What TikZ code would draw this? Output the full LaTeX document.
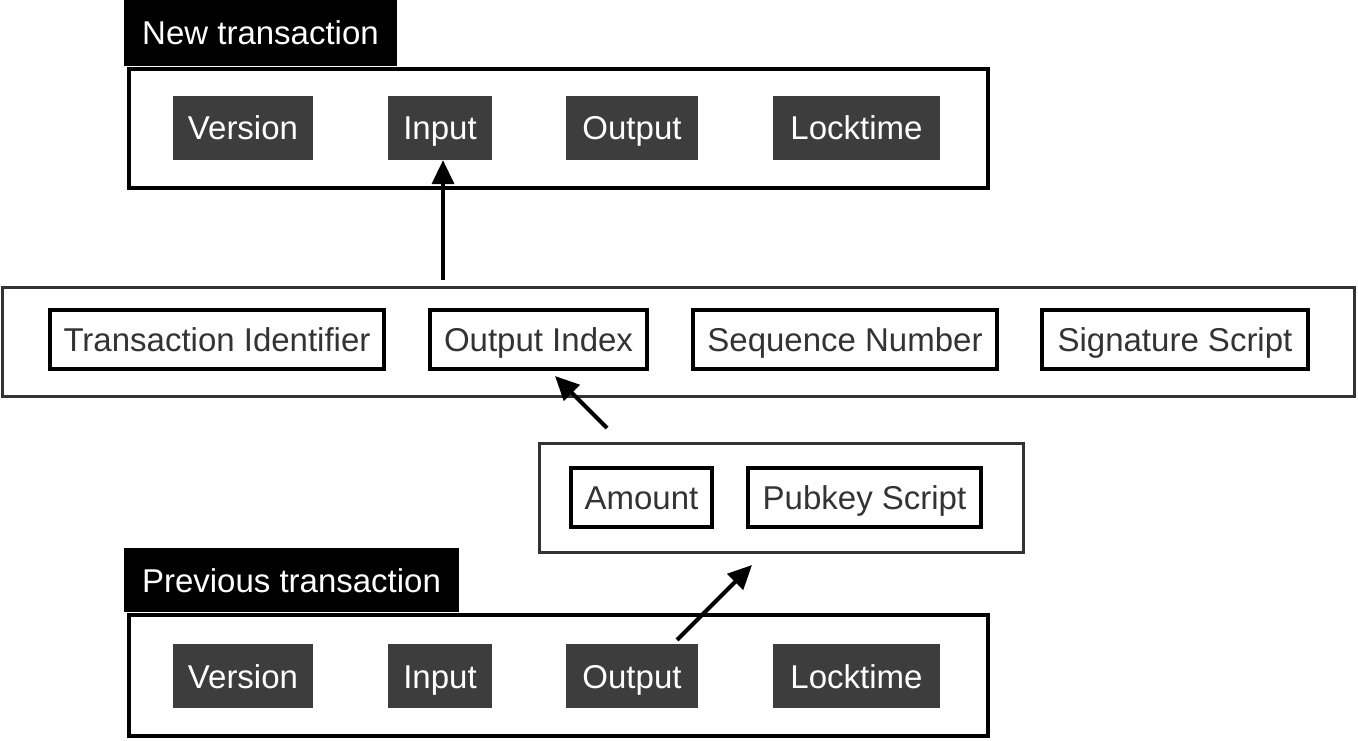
\documentclass[tikz,border=0pt]{standalone}
\usepackage{fontspec}
\setmainfont{Liberation Sans}
\usetikzlibrary{positioning,arrows.meta}
\definecolor{fieldgray}{HTML}{3D3D3D}
\definecolor{textgray}{HTML}{333333}
\tikzset{
  txframe/.style={draw, line width=4pt, inner sep=0pt},
  roughframe/.style={draw=black!80, line width=3.2pt, inner sep=0pt},
  txtab/.style={fill=black, text=white, inner sep=0pt, minimum height=66pt,
    text height=24pt, text depth=0pt, font=\fontsize{33}{40}\selectfont},
  field/.style={fill=fieldgray, text=white, inner sep=0pt, minimum height=64pt,
    text height=24pt, text depth=0pt, font=\fontsize{33}{40}\selectfont},
  part/.style={draw, line width=4pt, text=textgray, inner sep=0pt, minimum height=59pt,
    text height=24pt, text depth=0pt, font=\fontsize{33}{40}\selectfont},
  arr/.style={line width=4pt, -{Triangle[length=24pt,width=22pt]}}
}
\begin{document}
\begin{tikzpicture}[x=1pt,y=-1pt]
\useasboundingbox (0,0) rectangle (1358,741);
% new transaction
\node[txframe, minimum width=859pt, minimum height=119pt] (newtx) at (558.5,128.5) {};
\node[txtab, minimum width=273pt] (newtab) at (260.5,33) {New transaction};
\node[field, minimum width=140pt] (newver) at (243,128) {Version};
\node[field, minimum width=104pt] (newin) at (440,128) {Input};
\node[field, minimum width=132pt] (newout) at (632,128) {Output};
\node[field, minimum width=167pt] (newlock) at (856.5,128) {Locktime};
% input
\node[roughframe, minimum width=1352pt, minimum height=109pt] (inframe) at (678.5,342) {};
\node[part, minimum width=334pt] (txid) at (217,339.5) {Transaction Identifier};
\node[part, minimum width=217pt] (outidx) at (538.5,339.5) {Output Index};
\node[part, minimum width=304pt] (seqnum) at (845,339.5) {Sequence Number};
\node[part, minimum width=266pt] (sigscript) at (1175,339.5) {Signature Script};
% output
\node[roughframe, minimum width=484pt, minimum height=109pt] (outframe) at (781.5,498) {};
\node[part, minimum width=141pt] (amount) at (641.5,497.5) {Amount};
\node[part, minimum width=233pt] (pkscript) at (864.5,497.5) {Pubkey Script};
% previous transaction
\node[txframe, minimum width=859pt, minimum height=121pt] (prevtx) at (558.5,675.5) {};
\node[txtab, minimum width=335pt, minimum height=64pt] (prevtab) at (291.5,580) {Previous transaction};
\node[field, minimum width=140pt] (prevver) at (243,676) {Version};
\node[field, minimum width=104pt] (previn) at (440,676) {Input};
\node[field, minimum width=132pt] (prevout) at (632,676) {Output};
\node[field, minimum width=167pt] (prevlock) at (856.5,676) {Locktime};
% links
\coordinate (intail) at (443,280);
\coordinate (idxtail) at (607,428);
\coordinate (idxtip) at (555,376);
\coordinate (outtail) at (677,640);
\coordinate (outtip) at (752,565);
\draw[arr] (intail) -- (intail |- newin.south);
\draw[arr] (idxtail) -- (idxtip);
\draw[arr] (outtail) -- (outtip);
\end{tikzpicture}
\end{document}
